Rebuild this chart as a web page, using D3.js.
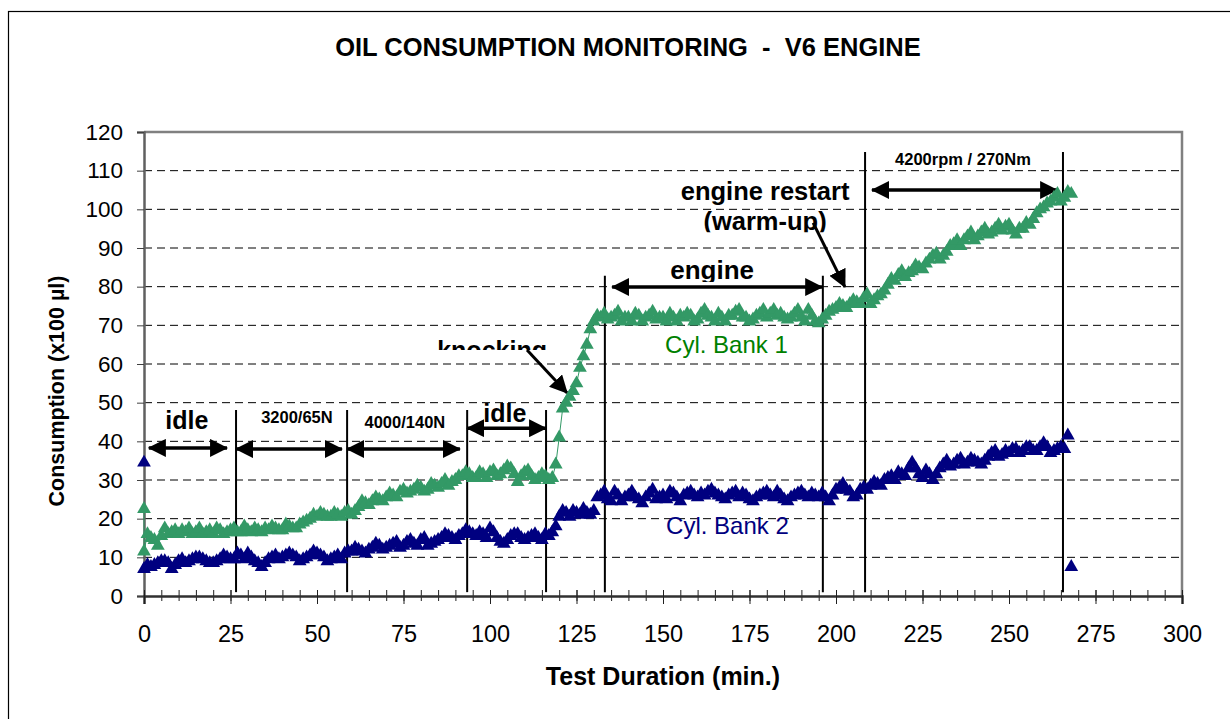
<!DOCTYPE html>
<meta charset="utf-8">
<script src="https://cdn.jsdelivr.net/npm/d3@7"></script>
<style>
body { margin: 0; background: #fff; }
text { font-family: "Liberation Sans", Arial, sans-serif; fill: #000; }
.grid line { stroke: #000; stroke-width: 1px; stroke-dasharray: 8,5; }
.bold { font-weight: bold; }
</style>
<body>
<script>
// Cyl. Bank 1 : [minute, consumption x100 ul]
var bank1 = [
  [0,22.5],[0,11.5],[1,16],[2,15],[3,14.5],[4,13],[5,15.5],[6,17.5],[7,16],[8,16.5],[9,17],
  [10,16],[11,17],[12,16.5],[13,17.5],[14,16],[15,16.5],[16,17.5],[17,16],[18,16.5],[19,17],
  [20,16],[21,17.5],[22,17],[23,16],[24,16.5],[25,17],[26,17.5],[27,16.5],[28,16.5],[29,18],
  [30,17],[31,16.5],[32,17.5],[33,17],[34,16.5],[35,17.5],[36,17],[37,18],[38,17.5],[39,17],
  [40,17],[41,18.5],[42,18],[43,17.5],[44,17.5],[45,18.5],[46,19],[47,19.5],[48,20],[49,21],
  [50,20.5],[51,21.5],[52,21],[53,20.5],[54,20.5],[55,21.5],[56,21],[57,20.5],[58,21.5],[59,22],
  [60,21],[61,22],[62,23],[63,24.5],[64,24],[65,23.5],[66,24.5],[67,25.5],[68,25],[69,24.5],
  [70,25.5],[71,26.5],[72,26],[73,25.5],[74,27],[75,27.5],[76,26.5],[77,27],[78,27.5],[79,28.5],
  [80,28],[81,27],[82,27.5],[83,29],[84,28.5],[85,28],[86,29],[87,30],[88,28.5],[89,29.5],
  [90,30],[91,31],[92,31],[93,32],[94,31.5],[95,30.5],[96,30.5],[97,32],[98,31.5],[99,30.5],
  [100,32],[101,32.5],[102,31],[103,31.5],[104,32.5],[105,33.5],[106,33],[107,31.5],[108,29.5],[109,31],
  [110,32],[111,32.5],[112,31],[113,30],[114,30.5],[115,31.5],[116,31],[117,30],[118,30.5],[119,34],
  [120,41],[121,48.5],[122,50],[123,51.5],[124,53],[125,55],[126,59],[127,62],[128,65],[129,69],
  [130,71],[131,72.5],[132,72],[133,73],[134,71.5],[135,72],[136,72.5],[137,73.5],[138,71],[139,72],
  [140,72],[141,71],[142,73],[143,72.5],[144,71],[145,72],[146,72.5],[147,73.5],[148,71.5],[149,72],
  [150,72],[151,71],[152,73],[153,72],[154,71],[155,72.5],[156,72],[157,73],[158,72.5],[159,71],
  [160,71.5],[161,73],[162,74],[163,72.5],[164,72],[165,71],[166,73],[167,72],[168,71],[169,72.5],
  [170,72.5],[171,73.5],[172,74],[173,72],[174,72],[175,71],[176,71.5],[177,72.5],[178,73],[179,74],
  [180,72],[181,73],[182,74],[183,72.5],[184,73],[185,72],[186,71.5],[187,72],[188,73],[189,74],
  [190,72],[191,71],[192,74],[193,72.5],[194,71],[195,70.5],[196,71.5],[197,72.5],[198,73.5],[199,74],
  [200,74.5],[201,75.5],[202,75],[203,74.5],[204,75.5],[205,76.5],[206,76],[207,75.5],[208,77],[209,78],
  [210,75.5],[211,76.5],[212,77.5],[213,78],[214,79],[215,80.5],[216,82],[217,81.5],[218,83],[219,84],
  [220,82.5],[221,83.5],[222,84],[223,85.5],[224,85],[225,84.5],[226,86],[227,87],[228,88],[229,88.5],
  [230,87],[231,88],[232,89],[233,90.5],[234,91],[235,92],[236,90.5],[237,92],[238,93],[239,94],
  [240,92],[241,93],[242,94],[243,95],[244,93.5],[245,94],[246,95],[247,96],[248,94.5],[249,95.5],
  [250,96],[251,94.5],[252,93.5],[253,95],[254,95],[255,96.5],[256,96],[257,97.5],[258,99],[259,100],
  [260,100.5],[261,101.5],[262,102],[263,103],[264,104],[265,102],[266,103],[267,104.5],[268,104]
];

// Cyl. Bank 2
var bank2 = [
  [0,34.5],[0,7],[1,8],[2,7.5],[3,8],[4,8.5],[5,9],[6,9],[7,8.5],[8,7],[9,8],
  [10,9],[11,9.5],[12,8.5],[13,9],[14,9.5],[15,10],[16,10],[17,9.5],[18,9],[19,8.5],
  [20,8.5],[21,9],[22,9.5],[23,10.5],[24,10],[25,9.5],[26,9.5],[27,11],[28,10.5],[29,9.5],
  [30,11],[31,10],[32,9],[33,8.5],[34,7.5],[35,8.5],[36,9.5],[37,10],[38,10.5],[39,9.5],
  [40,10],[41,10.5],[42,11],[43,10.5],[44,10],[45,9],[46,9.5],[47,10],[48,10.5],[49,11.5],
  [50,11],[51,10.5],[52,10],[53,9],[54,9.5],[55,10],[56,10.5],[57,9.5],[58,11],[59,11.5],
  [60,11.5],[61,12.5],[62,12],[63,11.5],[64,11],[65,12],[66,12.5],[67,13.5],[68,13],[69,12],
  [70,12.5],[71,13],[72,13.5],[73,14],[74,12.5],[75,13],[76,14],[77,14.5],[78,13.5],[79,13],
  [80,14.5],[81,15],[82,13],[83,13.5],[84,14],[85,14.5],[86,15],[87,16],[88,15.5],[89,15],
  [90,14.5],[91,15.5],[92,16],[93,17],[94,16.5],[95,16],[96,15.5],[97,16.5],[98,16],[99,15],
  [100,17.5],[101,16.5],[102,15],[103,14],[104,13.5],[105,14.5],[106,15.5],[107,16],[108,16],[109,15],
  [110,14.5],[111,15],[112,15.5],[113,16],[114,15],[115,14.5],[116,16],[117,15.5],[118,16.5],[119,18],
  [120,20.5],[121,22],[122,21.5],[123,20.5],[124,22],[125,21.5],[126,21],[127,22.5],[128,21.5],[129,21],
  [130,22],[131,25.5],[132,26],[133,27],[134,25],[135,24.5],[136,27],[137,26],[138,24.5],[139,25.5],
  [140,26],[141,27],[142,25.5],[143,25],[144,24],[145,25.5],[146,26.5],[147,27.5],[148,25],[149,25.5],
  [150,26],[151,25],[152,27],[153,26.5],[154,25.5],[155,24.5],[156,26],[157,26.5],[158,27],[159,26],
  [160,25.5],[161,26.5],[162,26],[163,27],[164,27.5],[165,26.5],[166,26],[167,25.5],[168,25],[169,26],
  [170,26.5],[171,27],[172,25.5],[173,26.5],[174,26],[175,25],[176,24.5],[177,25.5],[178,26],[179,26.5],
  [180,27],[181,26],[182,25.5],[183,27],[184,26],[185,25],[186,24.5],[187,25.5],[188,26],[189,26.5],
  [190,27],[191,26],[192,25.5],[193,26.5],[194,26],[195,25.5],[196,26.5],[197,25.5],[198,24.5],[199,26],
  [200,27.5],[201,28],[202,29],[203,27.5],[204,27],[205,25.5],[206,26],[207,27.5],[208,28],[209,27.5],
  [210,28.5],[211,29.5],[212,29],[213,28.5],[214,30],[215,30.5],[216,31],[217,30],[218,32],[219,31.5],
  [220,31],[221,33],[222,34.5],[223,33],[224,31.5],[225,30.5],[226,32.5],[227,31.5],[228,30],[229,31.5],
  [230,33],[231,34],[232,35],[233,33.5],[234,34],[235,35],[236,35.5],[237,34],[238,34.5],[239,35.5],
  [240,35],[241,34.5],[242,34],[243,35],[244,36],[245,37],[246,37.5],[247,36],[248,36.5],[249,37.5],
  [250,37],[251,38],[252,38],[253,37],[254,37.5],[255,38.5],[256,38.5],[257,37.5],[258,37.5],[259,38.5],
  [260,39.5],[261,38.5],[262,37],[263,37.5],[264,38],[265,38.5],[266,38],[267,41.5],[268,7.5]
];

var xTicks = [0,25,50,75,100,125,150,175,200,225,250,275,300];
var yTicks = [0,10,20,30,40,50,60,70,80,90,100,110,120];

// phase boundaries: [minute, top value]
var phaseLines = [[26.6,48.1],[58.7,48.1],[93.4,48.1],[116.2,48.1],[133.2,82.8],[196.2,82.8],[208.4,114.8],[265.6,114.8]];

// double arrows: [from, to, level]
var spans = [[1.4,24,38.3],[26.6,57.2,38],[58.7,91.3,38],[93.4,116.2,43.4],[135.3,196,79.9],[210.4,263.9,105]];

// pointer arrows: [x1,y1,x2,y2]
var pointers = [[110.7,63.6,122.3,52.5],[193.4,96.5,202.6,79.9]];

// labels: [text, x, y, size, clip-below value]
var labels = [
  ["idle",12.4,43.2,25,null],
  ["3200/65N",44.2,44.7,16.5,null],
  ["4000/140N",75.4,43.4,16.5,null],
  ["idle",104.3,45,25,null],
  ["knocking",100.6,61.3,25,63.6],
  ["engine",164.2,82,26,81.2],
  ["engine restart",179.5,102.4,25.5,null],
  ["(warm-up)",179.5,94.6,25.5,94.1],
  ["4200rpm / 270Nm",236.7,111.5,16.5,null]
];

var width = 1230,
    height = 719,
    margin = {left: 144, top: 132, right: 48, bottom: 123};

var x = d3.scaleLinear().domain([0, 300]).range([margin.left, width - margin.right]);
var y = d3.scaleLinear().domain([0, 120]).range([height - margin.bottom, margin.top]);

var svg = d3.select("body").append("svg")
    .attr("width", width)
    .attr("height", height);

// outer frame
svg.append("rect")
    .attr("x", 8.5).attr("y", 11.5)
    .attr("width", 1300).attr("height", 900)
    .style("fill", "none").style("stroke", "#000").style("stroke-width", 1.2);

svg.append("text")
    .attr("class", "bold")
    .attr("x", 628).attr("y", 56)
    .attr("text-anchor", "middle")
    .style("font-size", "25.5px")
    .style("white-space", "pre")
    .text("OIL CONSUMPTION MONITORING  -  V6 ENGINE");

// grid
svg.append("g")
    .attr("class", "grid")
  .selectAll("line")
    .data(yTicks.filter(function(d) { return d > 0 && d < 120; }))
  .enter().append("line")
    .attr("x1", x(0)).attr("x2", x(300))
    .attr("y1", function(d) { return y(d); })
    .attr("y2", function(d) { return y(d); });

// plot border top/right
svg.append("path")
    .attr("d", "M" + x(0) + "," + y(120) + "H" + x(300) + "V" + y(0))
    .style("fill", "none").style("stroke", "#808080").style("stroke-width", 2.5);

// y axis
var yAxis = svg.append("g")
    .attr("transform", "translate(" + x(0) + ",0)")
    .call(d3.axisLeft(y).tickValues(yTicks).tickSize(7).tickPadding(14));
yAxis.select(".domain").style("stroke", "#606060").style("stroke-width", 2.5);
yAxis.selectAll(".tick line").style("stroke", "#404040");
yAxis.selectAll(".tick text").style("font-size", "22.5px");

// x axis minor + major
var xMinor = svg.append("g")
    .attr("transform", "translate(0," + y(0) + ")")
    .call(d3.axisBottom(x).tickValues(d3.range(0, 301, 5)).tickFormat("").tickSize(5));
xMinor.select(".domain").remove();
xMinor.selectAll(".tick line").attr("y1", -6).style("stroke", "#202020");

var xAxis = svg.append("g")
    .attr("transform", "translate(0," + y(0) + ")")
    .call(d3.axisBottom(x).tickValues(xTicks).tickSize(8));
xAxis.select(".domain").style("stroke", "#303030").style("stroke-width", 2.5);
xAxis.selectAll(".tick line").attr("y1", -6).style("stroke", "#202020");
xAxis.selectAll(".tick text").attr("y", 46).attr("dy", null).style("font-size", "23.5px");

svg.append("text")
    .attr("class", "bold")
    .attr("x", 663).attr("y", 685)
    .attr("text-anchor", "middle")
    .style("font-size", "25px")
    .text("Test Duration (min.)");

svg.append("text")
    .attr("class", "bold")
    .attr("transform", "translate(64,391) rotate(-90)")
    .attr("text-anchor", "middle")
    .style("font-size", "21.5px")
    .text("Consumption (x100 µl)");

// phase lines
svg.append("g").selectAll("line")
    .data(phaseLines)
  .enter().append("line")
    .attr("x1", function(d) { return x(d[0]); })
    .attr("x2", function(d) { return x(d[0]); })
    .attr("y1", function(d) { return y(d[1]); })
    .attr("y2", y(1))
    .style("stroke", "#000").style("stroke-width", 2);

// arrow heads
var defs = svg.append("defs");
defs.append("marker")
    .attr("id", "head")
    .attr("markerUnits", "userSpaceOnUse")
    .attr("viewBox", "0 0 18 18")
    .attr("refX", 17).attr("refY", 9)
    .attr("markerWidth", 18).attr("markerHeight", 18)
    .attr("orient", "auto-start-reverse")
  .append("path")
    .attr("d", "M0,0L18,9L0,18Z")
    .style("fill", "#000");

svg.append("g").selectAll("line")
    .data(spans)
  .enter().append("line")
    .attr("x1", function(d) { return x(d[0]); })
    .attr("x2", function(d) { return x(d[1]); })
    .attr("y1", function(d) { return y(d[2]); })
    .attr("y2", function(d) { return y(d[2]); })
    .attr("marker-start", "url(#head)")
    .attr("marker-end", "url(#head)")
    .style("stroke", "#000").style("stroke-width", 3.5);

svg.append("g").selectAll("line")
    .data(pointers)
  .enter().append("line")
    .attr("x1", function(d) { return x(d[0]); })
    .attr("y1", function(d) { return y(d[1]); })
    .attr("x2", function(d) { return x(d[2]); })
    .attr("y2", function(d) { return y(d[3]); })
    .attr("marker-end", "url(#head)")
    .style("stroke", "#000").style("stroke-width", 3);

// annotation labels (some are cut off like text boxes in the original)
labels.forEach(function(d, i) {
  var t = svg.append("text")
      .attr("class", "bold")
      .attr("x", x(d[1])).attr("y", y(d[2]))
      .attr("text-anchor", "middle")
      .style("font-size", d[3] + "px")
      .text(d[0]);
  if (d[4] != null) {
    defs.append("clipPath").attr("id", "clip" + i)
      .append("rect")
        .attr("x", 0).attr("y", 0)
        .attr("width", width).attr("height", y(d[4]));
    t.attr("clip-path", "url(#clip" + i + ")");
  }
});

// series
var tri = d3.symbol().type(d3.symbolTriangle).size(82);

svg.append("path")
    .datum(bank1)
    .attr("d", d3.line().x(function(d) { return x(d[0]); }).y(function(d) { return y(d[1]); }))
    .style("fill", "none").style("stroke", "#339966").style("stroke-width", 1);

svg.append("g").selectAll("path")
    .data(bank1)
  .enter().append("path")
    .attr("d", tri)
    .attr("transform", function(d) { return "translate(" + x(d[0]) + "," + y(d[1]) + ")"; })
    .style("fill", "#339966");

svg.append("g").selectAll("path")
    .data(bank2)
  .enter().append("path")
    .attr("d", tri)
    .attr("transform", function(d) { return "translate(" + x(d[0]) + "," + y(d[1]) + ")"; })
    .style("fill", "#000080");

svg.append("text")
    .attr("x", x(150.6)).attr("y", y(62.8))
    .style("font-size", "24px").style("fill", "#008000")
    .text("Cyl. Bank 1");

svg.append("text")
    .attr("x", x(150.9)).attr("y", y(16))
    .style("font-size", "24px").style("fill", "#000080")
    .text("Cyl. Bank 2");
</script>
</body>
</html>
